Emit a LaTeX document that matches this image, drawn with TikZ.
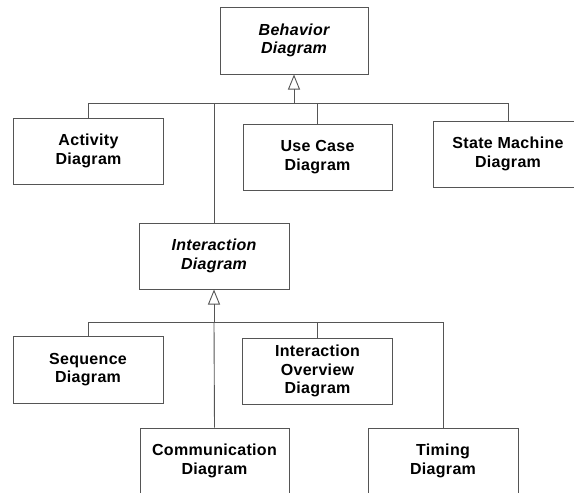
\documentclass[tikz,border=0pt]{standalone}
\usepackage{fontspec}
\setmainfont{Liberation Sans}[LetterSpace=2]
\usetikzlibrary{arrows.meta}
\definecolor{linegray}{HTML}{555555}
\begin{document}
\begin{tikzpicture}[x=1pt,y=-1pt,
  box/.style={draw=linegray, line width=1pt, rectangle, inner sep=0pt,
    minimum width=150pt, minimum height=66pt, align=center,
    font=\fontsize{16}{18.5}\selectfont\bfseries},
  abox/.style={box, font=\fontsize{16}{18.5}\selectfont\bfseries\itshape},
  conn/.style={draw=linegray, line width=0.9pt},
  gen/.style={conn, -{Triangle[open, length=15pt, width=12pt, line width=0.9pt]}}]
\useasboundingbox (0,0) rectangle (574,493);
\clip (0,0) rectangle (574,493);
% nodes
\node[abox, minimum width=148pt, minimum height=67pt] (beh) at (294,40.5) {Behavior\\Diagram};
\node[box] (act) at (88.5,151) {Activity\\Diagram};
\node[box, minimum width=149pt] (uc) at (317.5,157) {Use Case\\Diagram};
\node[box] (sm) at (508,154) {State Machine\\Diagram};
\node[abox] (inter) at (214,256) {Interaction\\Diagram};
\node[box, minimum height=67pt] (seq) at (88,369.5) {Sequence\\Diagram};
\node[box] (ov) at (317.5,371) {Interaction\\Overview\\Diagram};
\node[box, minimum width=149pt] (comm) at (214.5,461) {Communication\\Diagram};
\node[box] (tim) at (443,461) {Timing\\Diagram};
% junctions
\coordinate (j1) at (294,103);
\coordinate (j2) at (214,322);
% level 1 connectors
\draw[conn] (act.north) |- (j1);
\draw[conn] (uc.north) |- (j1);
\draw[conn] (sm.north) |- (j1);
\draw[conn] (inter.north) |- (j1);
\draw[gen] (j1) -- (beh.south);
% level 2 connectors
\draw[conn] (seq.north) |- (j2);
\draw[conn] (ov.north) |- (j2);
\draw[conn] (tim.north) |- (j2);
\draw[conn] (comm.north) -- (j2);
\draw[gen] (j2) -- (inter.south);
\end{tikzpicture}
\end{document}
